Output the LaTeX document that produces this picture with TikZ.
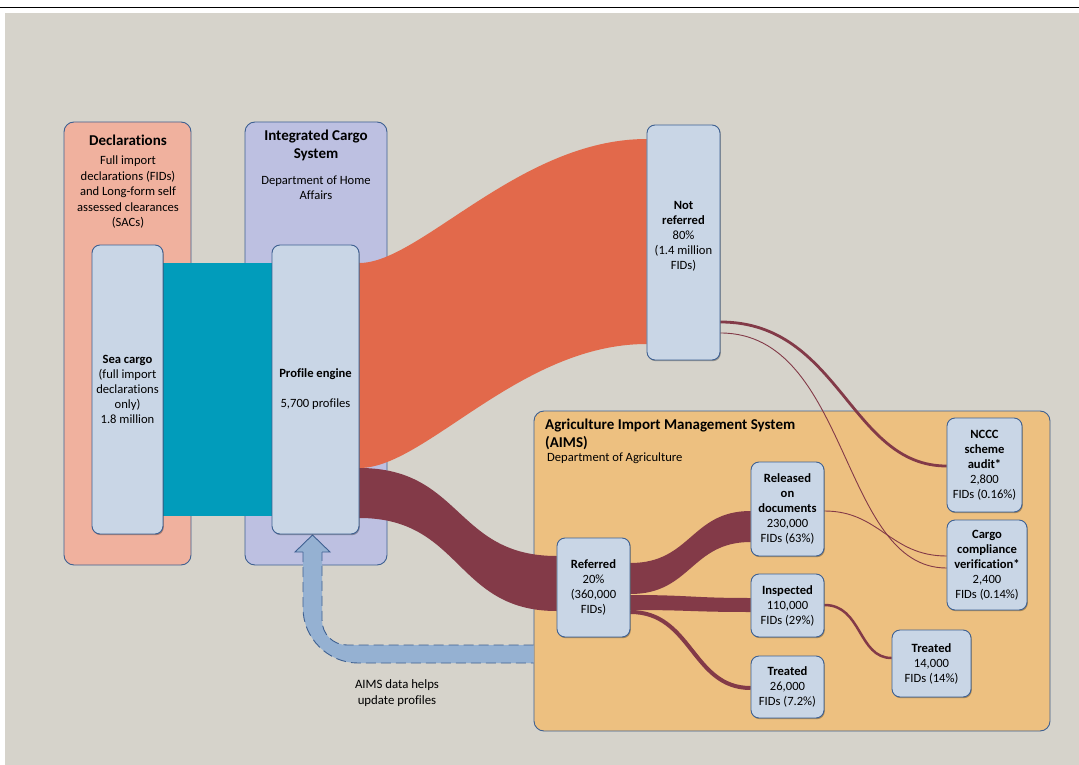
\documentclass[tikz,border=0pt]{standalone}
\usepackage{fontspec}
\setmainfont[Ligatures={NoCommon}]{Carlito}
\usetikzlibrary{shadows}
\definecolor{cBg}{RGB}{214,211,203}
\definecolor{cDecl}{RGB}{240,177,158}
\definecolor{cIcs}{RGB}{189,192,225}
\definecolor{cAims}{RGB}{237,192,128}
\definecolor{cBox}{RGB}{201,214,230}
\definecolor{cLine}{RGB}{62,96,145}
\definecolor{cTeal}{RGB}{1,156,187}
\definecolor{cOrange}{RGB}{226,105,75}
\definecolor{cMaroon}{RGB}{131,58,72}
\definecolor{cFb}{RGB}{149,177,210}
\pgfdeclarelayer{back}
\pgfdeclarelayer{mid}
\pgfsetlayers{back,mid,main}
\begin{document}
\begin{tikzpicture}[x=1pt,y=-1pt,font=\fontsize{12.6}{15}\selectfont,
  box/.style={draw=cLine, fill=cBox, line width=0.9pt, rounded corners=8pt, align=center, inner sep=0pt,
    drop shadow={shadow xshift=0.8pt,shadow yshift=-1.2pt,fill=black,opacity=0.3}},
  cont/.style={draw=cLine, line width=0.9pt, rounded corners=10pt, inner sep=0pt},
  txt/.style={align=center, inner sep=0pt},
  ttl/.style={txt, font=\fontsize{15}{18}\selectfont\bfseries},
  flow/.style={draw=cMaroon},
  fbedge/.style={draw=cLine, line width=0.9pt},
]
\useasboundingbox (0,0) rectangle (1079,765);
\begin{pgfonlayer}{back}
\fill[white] (0,0) rectangle (1079,765);
\fill[cBg] (5,13) rectangle (1079,765);
\draw[line width=1.8pt] (0,7.5) -- (1079,7.5);
\node[cont, fill=cDecl, minimum width=127, minimum height=443] (decl) at (127.5,343.5) {};
\node[cont, fill=cIcs, minimum width=142, minimum height=443] (ics) at (316,343.5) {};
\node[cont, fill=cAims, minimum width=516, minimum height=320] (aims) at (792,571) {};
\end{pgfonlayer}

% titles
\node[ttl] (declT) at (128,140) {Declarations};
\node[txt, font=\fontsize{12.6}{15.5}\selectfont] (declS) at (128,192) {Full import\\declarations (FIDs)\\and Long-form self\\assessed clearances\\(SACs)};
\node[ttl] (icsT) at (316,145) {Integrated Cargo\\System};
\node[txt] (icsS) at (316,188) {Department of Home\\Affairs};
\node[anchor=base west, inner sep=0pt, font=\fontsize{15}{18}\selectfont\bfseries] (aimsT1) at (545,429) {Agriculture Import Management System};
\node[anchor=base west, inner sep=0pt, font=\fontsize{15}{18}\selectfont\bfseries] (aimsT2) at (545,447) {(AIMS)};
\node[anchor=base west, inner sep=0pt] (aimsS) at (547,461) {Department of Agriculture};

% boxes
\node[box, minimum width=71, minimum height=289] (sea) at (127.5,389.5) {\textbf{Sea cargo}\\(full import\\declarations\\only)\\1.8 million};
\node[box, minimum width=87, minimum height=289] (pe) at (315.5,389.5) {\textbf{Profile engine}\\[15pt]5,700 profiles};
\node[box, minimum width=73, minimum height=235] (nr) at (683.5,242.5) {\textbf{Not}\\\textbf{referred}\\80\%\\(1.4 million\\FIDs)\\\mbox{}};
\node[box, minimum width=73, minimum height=99] (ref) at (593.5,587.5) {\textbf{Referred}\\20\%\\(360,000\\FIDs)};
\node[box, minimum width=73, minimum height=94] (rel) at (787.5,509) {\textbf{Released}\\\textbf{on}\\\textbf{documents}\\230,000\\FIDs (63\%)};
\node[box, minimum width=73, minimum height=63] (insp) at (787.5,605.5) {\textbf{Inspected}\\110,000\\FIDs (29\%)};
\node[box, minimum width=73, minimum height=62] (trt) at (787.5,687) {\textbf{Treated}\\26,000\\FIDs (7.2\%)};
\node[box, minimum width=75, minimum height=94] (nccc) at (984.5,465) {\textbf{NCCC}\\\textbf{scheme}\\\textbf{audit*}\\2,800\\FIDs (0.16\%)};
\node[box, minimum width=80, minimum height=90] (ccv) at (987,565) {\textbf{Cargo}\\\textbf{compliance}\\\textbf{verification*}\\2,400\\FIDs (0.14\%)};
\node[box, minimum width=79, minimum height=67] (trt2) at (931.5,663.5) {\textbf{Treated}\\14,000\\FIDs (14\%)};

\node[txt, font=\fontsize{12.8}{16.5}\selectfont] (fbtxt) at (397,693) {AIMS data helps\\update profiles};

\begin{pgfonlayer}{mid}
% teal band
\fill[cTeal] (sea.east |- 0,263) rectangle (pe.west |- 0,516);
% orange band
\fill[cOrange] (pe.east |- 0,263) .. controls (420,263) and (520,139) .. (nr.west |- 0,139)
  -- (nr.west |- 0,344) .. controls (520,344) and (425,468) .. (pe.east |- 0,468) -- cycle;
% maroon band to Referred
\fill[cMaroon] (pe.east |- 0,468) .. controls (462,468) and (455,556) .. (ref.west |- 0,556)
  -- (ref.west |- 0,611) .. controls (455,611) and (462,518) .. (pe.east |- 0,518) -- cycle;
% Referred -> Released
\fill[cMaroon] (ref.east |- 0,563) .. controls (691,563) and (691,511) .. (rel.west |- 0,511)
  -- (rel.west |- 0,542) .. controls (691,542) and (691,594) .. (ref.east |- 0,594) -- cycle;
% Referred -> Inspected
\fill[cMaroon] (ref.east |- 0,595) .. controls (691,595) and (691,598) .. (insp.west |- 0,598)
  -- (insp.west |- 0,612) .. controls (691,612) and (691,610) .. (ref.east |- 0,610) -- cycle;
% Referred -> Treated
\draw[flow, line width=4pt] (ref.east |- 0,612) .. controls (692,612) and (692,688) .. (trt.west |- 0,688);
% Not referred -> NCCC
\draw[flow, line width=2.8pt] (nr.east |- 0,322) .. controls (840,322) and (850,466) .. (nccc.west |- 0,466);
% Not referred -> CCV
\draw[flow, line width=0.9pt] (nr.east |- 0,333) .. controls (850,333) and (840,568) .. (ccv.west |- 0,568);
% Released -> CCV
\draw[flow, line width=0.9pt] (rel.east |- 0,511) .. controls (880,511) and (890,556) .. (ccv.west |- 0,556);
% Inspected -> Treated
\draw[flow, line width=2.5pt] (insp.east |- 0,605) .. controls (862,605) and (858,658) .. (trt2.west |- 0,658);

% feedback arrow
\coordinate (tip) at (312.5,535);
\fill[cFb] (aims.west |- 0,645) -- (347,645) .. controls (333,645) and (322,634) .. (322,620)
  -- (322,552) -- (330,552) -- (tip) -- (295,552) -- (303,552)
  -- (303,608) .. controls (303,638) and (328,663) .. (358,663) -- (aims.west |- 0,663) -- cycle;
\draw[fbedge, dash pattern=on 10pt off 5pt] (aims.west |- 0,645) -- (347,645) .. controls (333,645) and (322,634) .. (322,620) -- (322,552);
\draw[fbedge, dash pattern=on 10pt off 5pt] (303,552) -- (303,608) .. controls (303,638) and (328,663) .. (358,663) -- (aims.west |- 0,663);
\draw[fbedge, line join=miter] (322,552) -- (330,552) -- (tip) -- (295,552) -- (303,552);
\end{pgfonlayer}
\end{tikzpicture}
\end{document}
